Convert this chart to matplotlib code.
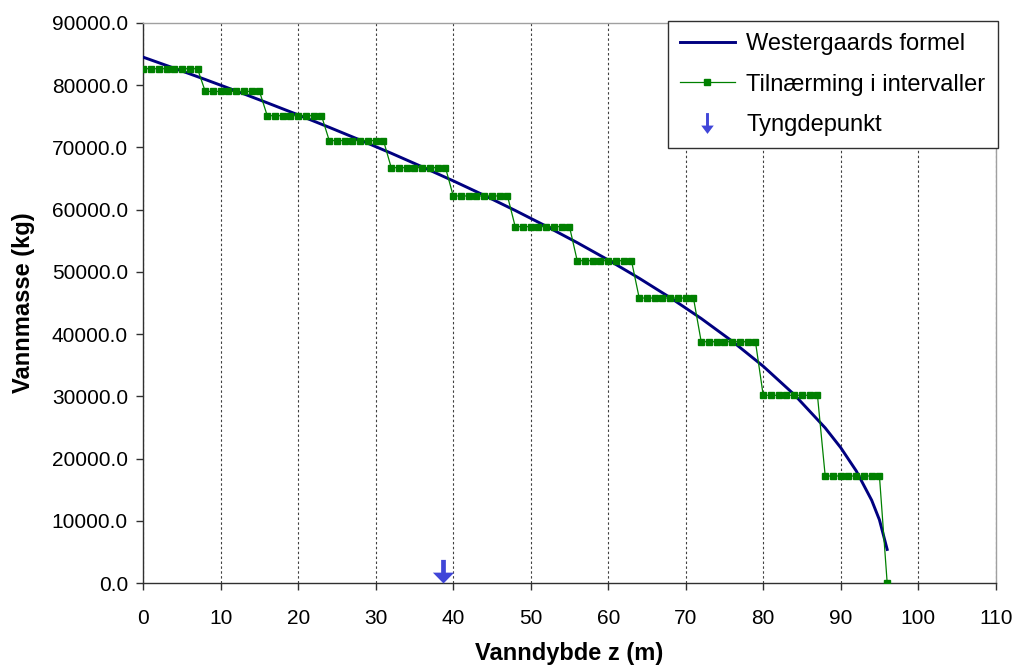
import numpy as np
import matplotlib
matplotlib.use("Agg")
import matplotlib.pyplot as plt
from matplotlib.path import Path
from matplotlib.lines import Line2D

plt.rcParams['font.family'] = ['Liberation Sans', 'DejaVu Sans']

# Westergaard curve: water mass vs. depth
curve_z = [0, 4, 8, 12, 16, 20, 24, 28, 32, 36, 40, 44, 48, 52, 56, 60,
           64, 68, 72, 76, 80, 84, 88, 90, 92, 94, 95, 96]
curve_m = [84500, 82730, 80920, 79070, 77170, 75230, 73230, 71180, 69070,
           66880, 64630, 62300, 59870, 57340, 54700, 51920, 48980, 45860,
           42510, 38860, 34840, 30290, 24930, 21760, 18030, 13300, 10150, 5400]

# Interval approximation: one constant level per 8 m interval
interval_levels = [82650, 79000, 75100, 71100, 66750, 62200, 57270,
                   51800, 45800, 38780, 30170, 17200]
points_per_interval = 8
end_depth = 96
end_mass = 0

# Centre of gravity
tyngdepunkt_z = 38.7

x_ticks = list(range(0, 111, 10))
y_ticks = list(range(0, 90001, 10000))

step_z = list(range(len(interval_levels) * points_per_interval)) + [end_depth]
step_m = list(np.repeat(interval_levels, points_per_interval)) + [end_mass]

fig = plt.figure(figsize=(10.16, 6.68), dpi=100)
ax = fig.add_axes([0.141, 0.1272, 0.839, 0.8384])

ax.plot(curve_z, curve_m, color='#000080', lw=2.1, zorder=3,
        label='Westergaards formel')
ax.plot(step_z, step_m, color='#008000', lw=0.9, marker='s', markersize=5,
        markeredgecolor='#008000', zorder=4, label='Tilnærming i intervaller')

# down arrow with its tip on the data point
arrow_tip = Path([(0, 0), (0.45, 0.46), (0.1, 0.46), (0.1, 1.0), (-0.1, 1.0),
                  (-0.1, 0.46), (-0.45, 0.46), (0, 0)],
                 [Path.MOVETO] + [Path.LINETO] * 6 + [Path.CLOSEPOLY])
ax.plot([tyngdepunkt_z], [0], linestyle='none', marker=arrow_tip,
        markersize=34, color='#4046D8', markeredgewidth=0, clip_on=False,
        zorder=5)

arrow_centered = Path([(0, -0.5), (0.3, -0.1), (0.07, -0.1), (0.07, 0.5),
                       (-0.07, 0.5), (-0.07, -0.1), (-0.3, -0.1), (0, -0.5)],
                      [Path.MOVETO] + [Path.LINETO] * 6 + [Path.CLOSEPOLY])
arrow_handle = Line2D([], [], linestyle='none', marker=arrow_centered,
                      markersize=15, color='#4046D8', markeredgewidth=0,
                      label='Tyngdepunkt')

ax.set_xlim(0, 110)
ax.set_ylim(0, 90000)
ax.set_xticks(x_ticks)
ax.set_yticks(y_ticks)
ax.set_yticklabels([f"{v:.1f}" for v in y_ticks])
ax.tick_params(axis='both', direction='out', length=5, width=1,
               color='#303030', labelsize=15)
ax.tick_params(axis='y', pad=6)
ax.tick_params(axis='x', pad=14)

ax.xaxis.grid(True, linestyle=(0, (2.2, 2.2)), color='#404040', lw=0.8)
ax.set_axisbelow(True)

for side in ('left', 'bottom'):
    ax.spines[side].set_color('#303030')
    ax.spines[side].set_linewidth(1.0)
for side in ('top', 'right'):
    ax.spines[side].set_color('#a0a0a0')
    ax.spines[side].set_linewidth(1.0)

ax.set_xlabel('Vanndybde z (m)', fontsize=17, fontweight='bold', labelpad=10)
ax.set_ylabel('Vannmasse (kg)', fontsize=17, fontweight='bold', labelpad=12)

handles, labels = ax.get_legend_handles_labels()
handles.append(arrow_handle)
leg = fig.legend(handles=handles, loc='upper right',
                 bbox_to_anchor=(0.982, 0.9686), fontsize=17, frameon=True,
                 fancybox=False, edgecolor='#303030', framealpha=1,
                 handlelength=2.3, handletextpad=0.5, labelspacing=0.78,
                 borderpad=0.52, borderaxespad=0)
leg.get_frame().set_linewidth(1.0)

fig.savefig('out.png', dpi=100)
